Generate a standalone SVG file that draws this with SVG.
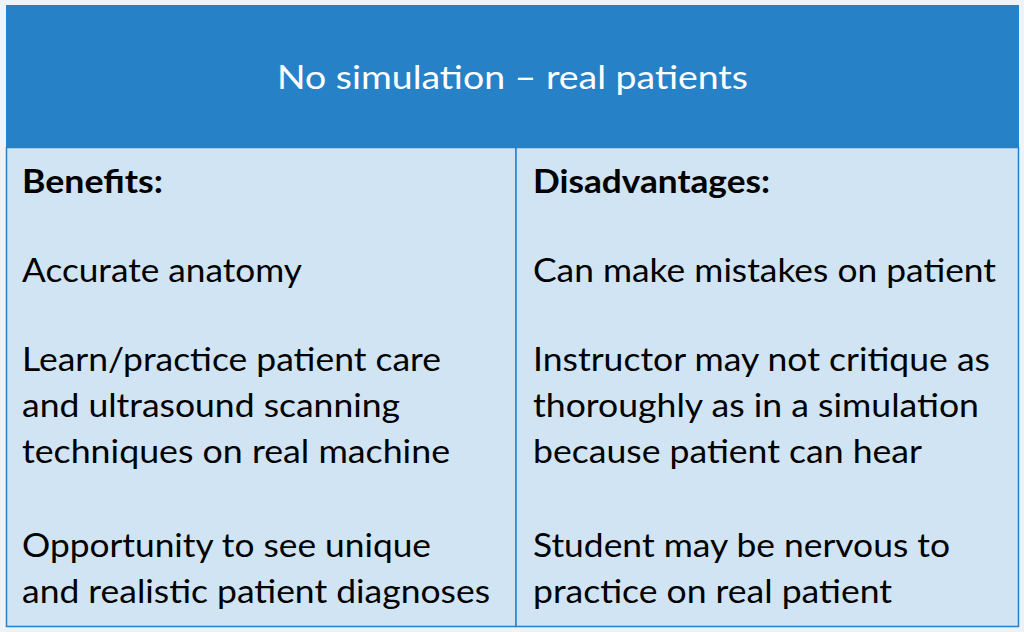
<svg xmlns="http://www.w3.org/2000/svg" width="1024" height="632" viewBox="0 0 1024 632">
<style>
.t{font-family:Lato,"Liberation Sans",sans-serif;font-size:32px;fill:#000}
.b{font-weight:bold}
.h{font-family:Lato,"Liberation Sans",sans-serif;font-size:32px;fill:#fff}
</style>
<rect width="1024" height="632" fill="#EEF3F8"/>
<g id="header"><rect x="6" y="5" width="1013" height="142" fill="#2781C7"/>
<text class="h" x="277" y="89" textLength="471" lengthAdjust="spacingAndGlyphs">No simulation – real patients</text></g>
<g id="benefits"><rect x="6.5" y="147.5" width="509.5" height="479" fill="#D0E4F4" stroke="#2781C7" stroke-width="1.5"/>
<text class="t b" x="22" y="193" textLength="141" lengthAdjust="spacingAndGlyphs">Benefits:</text>
<text class="t" x="22" y="282" textLength="280" lengthAdjust="spacingAndGlyphs">Accurate anatomy</text>
<text class="t" x="22" y="371" textLength="419" lengthAdjust="spacingAndGlyphs">Learn/practice patient care</text>
<text class="t" x="22" y="417" textLength="378" lengthAdjust="spacingAndGlyphs">and ultrasound scanning</text>
<text class="t" x="22" y="463" textLength="428" lengthAdjust="spacingAndGlyphs">techniques on real machine</text>
<text class="t" x="22" y="557" textLength="409" lengthAdjust="spacingAndGlyphs">Opportunity to see unique</text>
<text class="t" x="22" y="603" textLength="468" lengthAdjust="spacingAndGlyphs">and realistic patient diagnoses</text></g>
<g id="disadvantages"><rect x="516" y="147.5" width="502.5" height="479" fill="#D0E4F4" stroke="#2781C7" stroke-width="1.5"/>
<text class="t b" x="533" y="193" textLength="237" lengthAdjust="spacingAndGlyphs">Disadvantages:</text>
<text class="t" x="533" y="282" textLength="463" lengthAdjust="spacingAndGlyphs">Can make mistakes on patient</text>
<text class="t" x="533" y="371" textLength="457" lengthAdjust="spacingAndGlyphs">Instructor may not critique as</text>
<text class="t" x="533" y="417" textLength="446" lengthAdjust="spacingAndGlyphs">thoroughly as in a simulation</text>
<text class="t" x="533" y="463" textLength="389" lengthAdjust="spacingAndGlyphs">because patient can hear</text>
<text class="t" x="533" y="557" textLength="417" lengthAdjust="spacingAndGlyphs">Student may be nervous to</text>
<text class="t" x="533" y="603" textLength="359" lengthAdjust="spacingAndGlyphs">practice on real patient</text></g>
</svg>
